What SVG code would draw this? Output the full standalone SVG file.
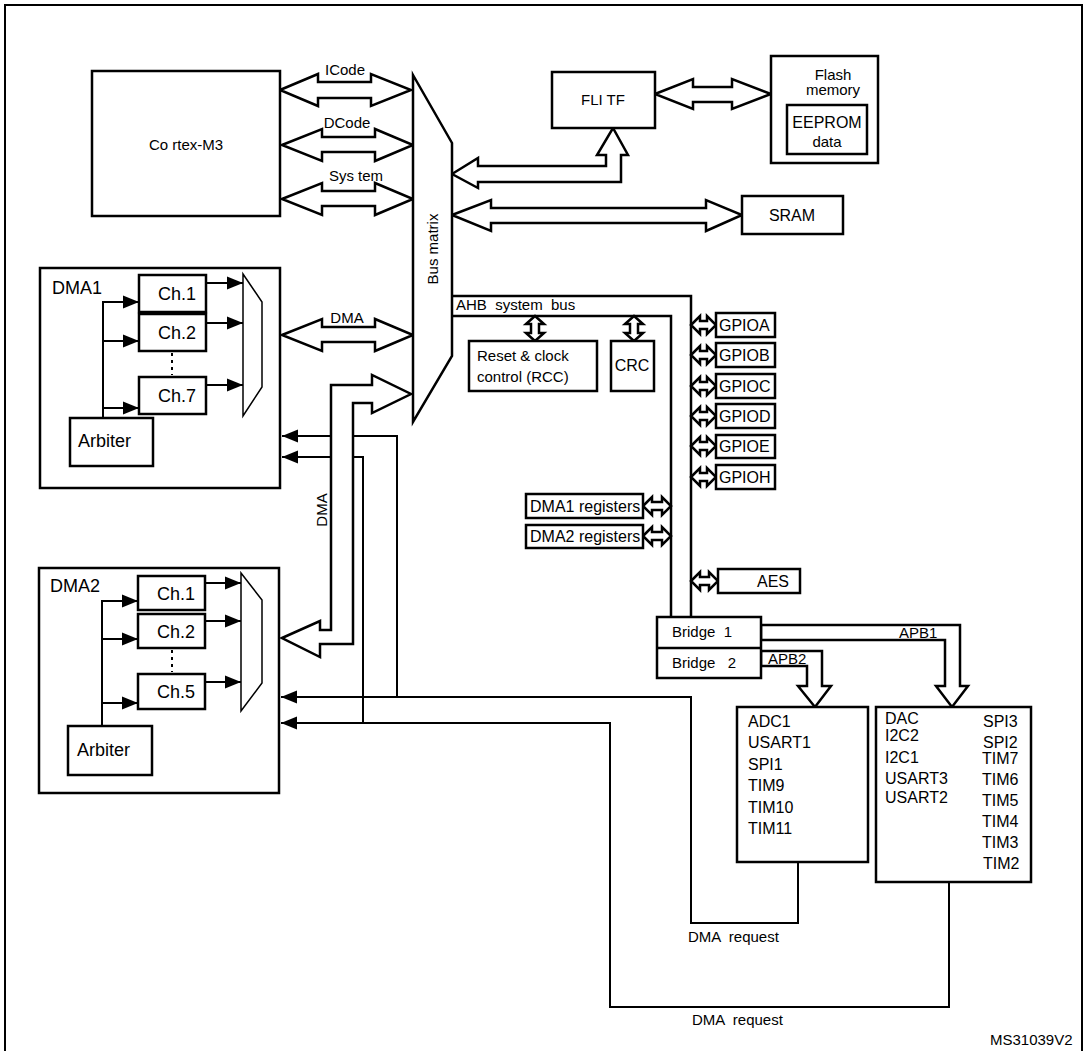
<svg xmlns="http://www.w3.org/2000/svg" width="1085" height="1051" viewBox="0 0 1085 1051">
<defs>
<marker id="af" viewBox="0 0 10 10" refX="10" refY="5" markerWidth="16" markerHeight="16" markerUnits="userSpaceOnUse" orient="auto"><path d="M0,1L10,5L0,9Z" fill="#000"/></marker>
</defs>
<style>
text{font-family:"Liberation Sans",Arial,sans-serif;fill:#000;white-space:pre}
.b{fill:#fff;stroke:#000;stroke-width:2.5}
.t{fill:#fff;stroke:#000;stroke-width:1.5}
.fa{fill:#fff;stroke:#000;stroke-width:2.5;stroke-linejoin:miter}
.ln{fill:none;stroke:#000;stroke-width:2.5}
.th{fill:none;stroke:#000;stroke-width:2}
.ar{fill:none;stroke:#000;stroke-width:2;marker-end:url(#af)}
.s14{font-size:15px}.s15{font-size:16px}.s17{font-size:18px}
</style>
<rect width="1085" height="1051" fill="#fff"/>
<path class="th" d="M5,1051V5H1082V1051"/>

<g id="connectors">
<polygon class="fa" points="280,90 318,74 318,82 371,82 371,74 411,90 371,106 371,98 318,98 318,106"/>
<polygon class="fa" points="282,145 322,129 322,137 375,137 375,129 413,145 375,161 375,152 322,152 322,161"/>
<polygon class="fa" points="282,199 322,183 322,191 375,191 375,183 413,199 375,215 375,206 322,206 322,215"/>
<polygon class="fa" points="282,335 322,319 322,327 375,327 375,319 413,335 375,351 375,342 322,342 322,351"/>
<polygon class="fa" points="655,94 693,79 693,87 732,87 732,79 771,94 732,109 732,102 693,102 693,109"/>
<polygon class="fa" points="452,174 478,158 478,166 606,166 606,155 597,155 613,128 628,155 621,155 621,182 478,182 478,188"/>
<polygon class="fa" points="452,215 491,200 491,208 706,208 706,200 742,215 706,231 706,223 491,223 491,231"/>
<polygon class="fa" points="282,638 320,621 320,630 331,630 331,385 372,385 372,375 411,394 372,413 372,403 353,403 353,644 320,644 320,657"/>
<path class="ln" d="M452,296H691V617M452,316H671V617"/>
<polygon class="fa" points="761,625 960,625 960,686 968,686 952,707 936,686 945,686 945,640 761,640"/>
<polygon class="fa" points="761,651 822,651 822,686 831,686 815,707 798,686 807,686 807,666 761,666"/>
<g class="fa" stroke-width="2">
<polygon points="535,316 544,324 539,324 539,333 544,333 535,341 526,333 531,333 531,324 526,324"/>
<polygon points="634,316 643,324 638,324 638,333 643,333 634,341 625,333 630,333 630,324 625,324"/>
<polygon points="691,325 700,316 700,321 707,321 707,316 716,325 707,334 707,329 700,329 700,334"/>
<polygon points="691,355 700,346 700,351 707,351 707,346 716,355 707,364 707,359 700,359 700,364"/>
<polygon points="691,386 700,377 700,382 707,382 707,377 716,386 707,395 707,390 700,390 700,395"/>
<polygon points="691,416 700,407 700,412 707,412 707,407 716,416 707,425 707,420 700,420 700,425"/>
<polygon points="691,446 700,437 700,442 707,442 707,437 716,446 707,455 707,450 700,450 700,455"/>
<polygon points="691,477 700,468 700,473 707,473 707,468 716,477 707,486 707,481 700,481 700,486"/>
<polygon points="691,581 700,572 700,577 709,577 709,572 718,581 709,590 709,585 700,585 700,590"/>
<polygon points="643,506 652,497 652,502 662,502 662,497 671,506 662,515 662,510 652,510 652,515"/>
<polygon points="643,536 652,527 652,532 662,532 662,527 671,536 662,545 662,540 652,540 652,545"/>
</g>
<path class="ar" d="M331,436H282"/>
<path class="ar" d="M331,457H282"/>
<path class="th" d="M353,436H397V697"/>
<path class="th" d="M353,457H363V723"/>
<path class="ar" d="M798,862V923H691V697H281"/>
<path class="ar" d="M949,882V1007H610V723H281"/>
</g>

<g id="cortex"><rect class="b" x="92" y="71" width="188" height="145"/><text class="s14" x="186" y="150" text-anchor="middle">Co rtex-M3</text></g>
<g id="busmatrix"><polygon class="b" points="413,75 452,143 452,356 413,422"/><text class="s14" transform="translate(438,249) rotate(-90)" text-anchor="middle">Bus matrix</text></g>
<g id="labels">
<text class="s14" x="345" y="75" text-anchor="middle">ICode</text>
<text class="s14" x="347" y="128" text-anchor="middle">DCode</text>
<text class="s14" x="356" y="181" text-anchor="middle">Sys tem</text>
<text class="s14" x="347" y="323" text-anchor="middle">DMA</text>
<text class="s14" transform="translate(327,510) rotate(-90)" text-anchor="middle">DMA</text>
<text class="s14" x="456" y="310">AHB  system  bus</text>
<text class="s14" x="899" y="638">APB1</text>
<text class="s14" x="768" y="664">APB2</text>
<text class="s14" x="688" y="942">DMA  request</text>
<text class="s14" x="692" y="1025">DMA  request</text>
<text class="s14" x="990" y="1045">MS31039V2</text>
</g>
<g id="flitf"><rect class="b" x="552" y="72" width="103" height="56"/><text class="s14" x="603" y="105" text-anchor="middle">FLI TF</text></g>
<g id="flash"><rect class="b" x="771" y="56" width="107" height="107"/><text class="s14" x="833" y="80" text-anchor="middle">Flash</text><text class="s14" x="833" y="95" text-anchor="middle">memory</text>
<rect class="b" x="787" y="105" width="80" height="49"/><text class="s15" x="827" y="128" text-anchor="middle">EEPROM</text><text class="s14" x="827" y="147" text-anchor="middle">data</text></g>
<g id="sram"><rect class="b" x="742" y="196" width="101" height="38"/><text class="s15" x="792" y="221" text-anchor="middle">SRAM</text></g>

<g id="dma1">
<rect class="b" x="40" y="268" width="240" height="220"/>
<text class="s17" x="52" y="294">DMA1</text>
<rect class="b" x="139" y="275" width="67" height="37"/><text class="s17" x="177" y="300" text-anchor="middle">Ch.1</text>
<rect class="b" x="139" y="314" width="67" height="37"/><text class="s17" x="177" y="339" text-anchor="middle">Ch.2</text>
<rect class="b" x="139" y="377" width="67" height="37"/><text class="s17" x="177" y="402" text-anchor="middle">Ch.7</text>
<path d="M172,353V375" stroke="#000" stroke-width="2" stroke-dasharray="3,4"/>
<polygon class="t" points="243,274 262,302 262,387 243,416"/>
<path class="ar" d="M206,283H243"/><path class="ar" d="M206,323H243"/><path class="ar" d="M206,385H243"/>
<path class="th" d="M103,418V302"/>
<path class="ar" d="M102,302H139"/><path class="ar" d="M102,341H139"/><path class="ar" d="M102,408H139"/>
<rect class="b" x="70" y="418" width="83" height="48"/><text class="s17" x="78" y="447">Arbiter</text>
</g>
<g id="dma2">
<rect class="b" x="39" y="568" width="240" height="225"/>
<text class="s17" x="50" y="592">DMA2</text>
<rect class="b" x="138" y="576" width="67" height="34"/><text class="s17" x="176" y="600" text-anchor="middle">Ch.1</text>
<rect class="b" x="138" y="614" width="67" height="34"/><text class="s17" x="176" y="638" text-anchor="middle">Ch.2</text>
<rect class="b" x="138" y="674" width="67" height="35"/><text class="s17" x="176" y="698" text-anchor="middle">Ch.5</text>
<path d="M172,650V672" stroke="#000" stroke-width="2" stroke-dasharray="3,4"/>
<polygon class="t" points="241,573 262,600 262,683 241,711"/>
<path class="ar" d="M205,583H241"/><path class="ar" d="M205,621H241"/><path class="ar" d="M205,682H241"/>
<path class="th" d="M102,726V601"/>
<path class="ar" d="M101,601H138"/><path class="ar" d="M101,639H138"/><path class="ar" d="M101,703H138"/>
<rect class="b" x="68" y="726" width="84" height="49"/><text class="s17" x="77" y="756">Arbiter</text>
</g>

<g id="rcc"><rect class="b" x="469" y="341" width="128" height="50"/><text class="s14" x="477" y="361">Reset &amp; clock</text><text class="s14" x="477" y="382">control (RCC)</text></g>
<g id="crc"><rect class="b" x="611" y="341" width="43" height="50"/><text class="s15" x="632" y="371" text-anchor="middle">CRC</text></g>
<g id="gpio" class="s15">
<rect class="b" x="716" y="313" width="59" height="24"/><text x="719" y="331">GPIOA</text>
<rect class="b" x="716" y="343" width="59" height="24"/><text x="719" y="361">GPIOB</text>
<rect class="b" x="716" y="374" width="59" height="24"/><text x="719" y="392">GPIOC</text>
<rect class="b" x="716" y="404" width="59" height="24"/><text x="719" y="422">GPIOD</text>
<rect class="b" x="716" y="435" width="59" height="23"/><text x="719" y="452">GPIOE</text>
<rect class="b" x="716" y="465" width="59" height="24"/><text x="719" y="483">GPIOH</text>
</g>
<g id="dmaregs" class="s15">
<rect class="b" x="526" y="494" width="117" height="24"/><text x="530" y="512">DMA1 registers</text>
<rect class="b" x="526" y="525" width="117" height="23"/><text x="530" y="542">DMA2 registers</text>
</g>
<g id="aes"><rect class="b" x="718" y="569" width="82" height="24"/><text class="s15" x="773" y="587" text-anchor="middle">AES</text></g>
<g id="bridge"><rect class="b" x="657" y="617" width="104" height="61"/><path class="ln" d="M657,648H761"/><text class="s14" x="672" y="637">Bridge  1</text><text class="s14" x="672" y="668">Bridge   2</text></g>
<g id="apb2" class="s15"><rect class="b" x="737" y="707" width="131" height="155"/>
<text x="748" y="727">ADC1</text><text x="748" y="748">USART1</text><text x="748" y="770">SPI1</text><text x="748" y="791">TIM9</text><text x="748" y="813">TIM10</text><text x="748" y="834">TIM11</text></g>
<g id="apb1" class="s15"><rect class="b" x="876" y="707" width="155" height="175"/>
<text x="885" y="724">DAC</text><text x="885" y="741">I2C2</text><text x="885" y="763">I2C1</text><text x="885" y="784">USART3</text><text x="885" y="803">USART2</text>
<text x="983" y="727">SPI3</text><text x="983" y="748">SPI2</text><text x="982" y="764">TIM7</text><text x="982" y="785">TIM6</text><text x="982" y="806">TIM5</text><text x="982" y="827">TIM4</text><text x="982" y="848">TIM3</text><text x="983" y="869">TIM2</text></g>
</svg>
